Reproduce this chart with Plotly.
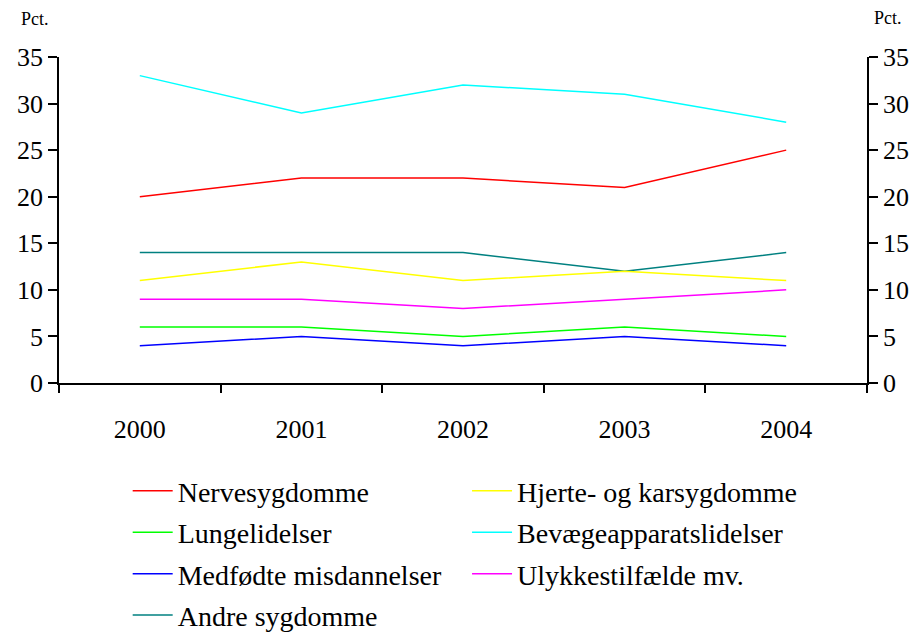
import plotly.graph_objects as go

years = ["2000", "2001", "2002", "2003", "2004"]

nervesygdomme = [20, 22, 22, 21, 25]
hjerte_kar = [11, 13, 11, 12, 11]
lungelidelser = [6, 6, 5, 6, 5]
bevaegeapparat = [33, 29, 32, 31, 28]
medfoedte = [4, 5, 4, 5, 4]
ulykker = [9, 9, 8, 9, 10]
andre = [14, 14, 14, 12, 14]

# (name, values, colour, legend column)
series = [
    ("Nervesygdomme", nervesygdomme, "#ff0000", "legend"),
    ("Lungelidelser", lungelidelser, "#00ff00", "legend"),
    ("Medfødte misdannelser", medfoedte, "#0000ff", "legend"),
    ("Andre sygdomme", andre, "#008080", "legend"),
    ("Hjerte- og karsygdomme", hjerte_kar, "#ffff00", "legend2"),
    ("Bevægeapparatslidelser", bevaegeapparat, "#00ffff", "legend2"),
    ("Ulykkestilfælde mv.", ulykker, "#ff00ff", "legend2"),
]

font_family = "Liberation Serif"

fig = go.Figure()
for i, (name, vals, col, leg) in enumerate(series):
    fig.add_trace(go.Scatter(
        x=years, y=vals, name=name, mode="lines",
        line=dict(color=col, width=1.5),
        legend=leg, legendgroup=str(i),
    ))

axis_common = dict(
    range=[0, 35], dtick=5, showgrid=False, zeroline=False,
    showline=True, linecolor="black", linewidth=1.5,
    ticks="outside", ticklen=9, tickcolor="black", tickwidth=1.5,
    tickfont=dict(size=26, color="black", family=font_family),
    automargin=False,
)

leg_common = dict(
    orientation="v", yanchor="top", y=-0.255,
    font=dict(size=28, color="black", family=font_family),
    tracegroupgap=2, bgcolor="rgba(0,0,0,0)", itemwidth=40,
)

# page body adds an 8px margin, so the figure is offset by 8px
fig.update_layout(
    width=902, height=624,
    margin=dict(l=51, r=43, t=49, b=249, autoexpand=False),
    plot_bgcolor="white", paper_bgcolor="white",
    font=dict(family=font_family, color="black"),
    showlegend=True,
    xaxis=dict(
        type="category", range=[-0.5, 4.5], showgrid=False, zeroline=False,
        showline=True, linecolor="black", linewidth=1.5,
        ticks="outside", ticklen=8, tickcolor="black", tickwidth=1.5,
        tickson="boundaries", ticklabelstandoff=22, automargin=False,
        tickfont=dict(size=26, color="black", family=font_family),
    ),
    yaxis=axis_common,
    yaxis2=dict(axis_common, overlaying="y", side="right", anchor="x"),
    legend=dict(leg_common, x=0.085, xanchor="left"),
    legend2=dict(leg_common, x=0.505, xanchor="left"),
    annotations=[
        dict(text="Pct.", xref="paper", yref="paper", x=-0.05, y=1.117,
             xanchor="left", yanchor="middle", showarrow=False,
             font=dict(size=18, family=font_family, color="black")),
        dict(text="Pct.", xref="paper", yref="paper", x=1.006, y=1.12,
             xanchor="left", yanchor="middle", showarrow=False,
             font=dict(size=18, family=font_family, color="black")),
    ],
)

# dummy trace so the right axis is drawn
fig.add_trace(go.Scatter(x=years, y=andre, yaxis="y2", mode="lines",
                         line=dict(width=0), showlegend=False, hoverinfo="skip"))

fig.write_html("out.html")
